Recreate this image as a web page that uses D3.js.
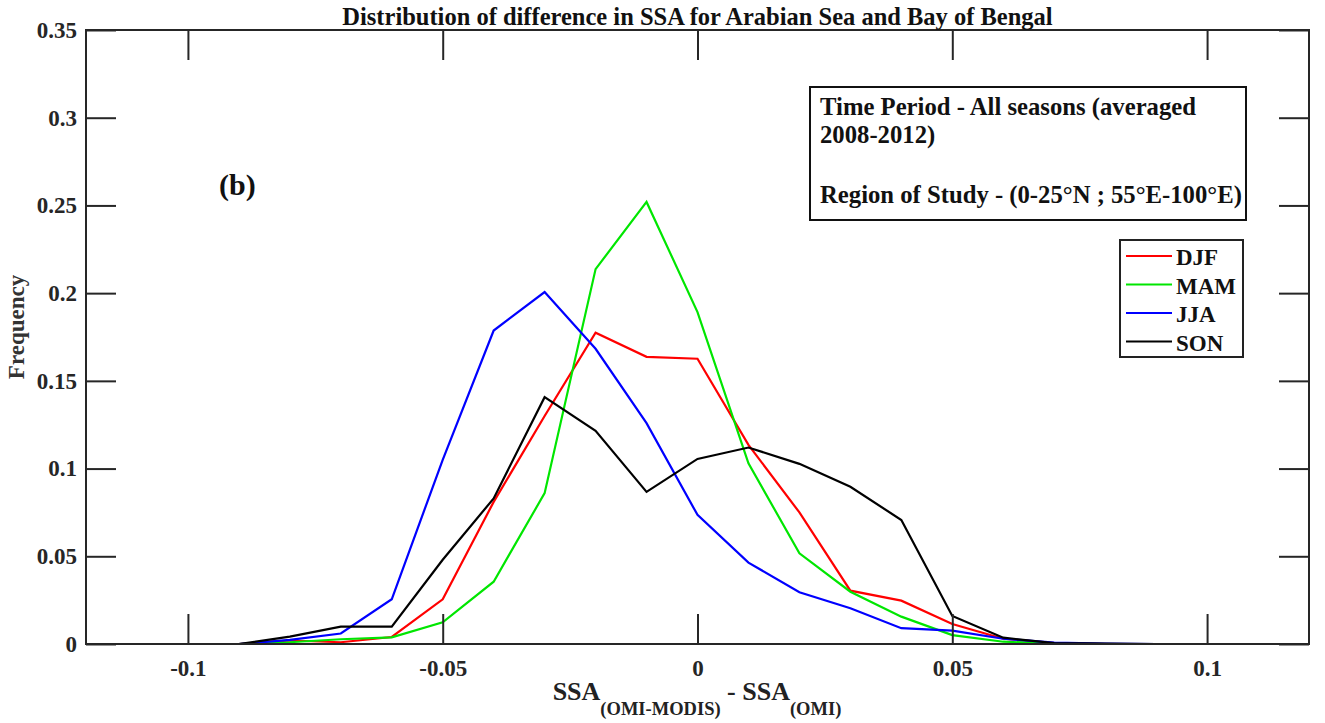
<!DOCTYPE html>
<html>
<head>
<meta charset="utf-8">
<script src="https://cdn.jsdelivr.net/npm/d3@7"></script>
<style>
  html, body { margin: 0; padding: 0; background: #fff; }
  svg { display: block; font-family: "Liberation Serif", "Times New Roman", serif; font-weight: bold; }
</style>
</head>
<body>
<svg id="chart" width="1325" height="723"></svg>
<script>
// Bin centres of the SSA difference histogram
const bins = [-0.09, -0.08, -0.07, -0.06, -0.05, -0.04, -0.03, -0.02, -0.01, 0,
              0.01, 0.02, 0.03, 0.04, 0.05, 0.06, 0.07, 0.08, 0.09];

// Relative frequency per season
const djf = [0, 0.002, 0.001, 0.004, 0.0255, 0.081, 0.13, 0.1774, 0.1637, 0.1626,
             0.1135, 0.075, 0.0304, 0.0247, 0.0114, 0.003, 0.0005, 0, 0];
const mam = [0, 0.001, 0.0027, 0.0038, 0.0124, 0.0355, 0.086, 0.2137, 0.252, 0.1892,
             0.103, 0.0517, 0.0298, 0.0156, 0.0051, 0.0013, 0.0003, 0, 0];
const jja = [0, 0.0023, 0.006, 0.0255, 0.105, 0.1787, 0.2006, 0.1683, 0.1259, 0.0736,
             0.0464, 0.0295, 0.0204, 0.009, 0.0076, 0.003, 0.0008, 0.0002, 0];
const son = [0, 0.0042, 0.0099, 0.0099, 0.048, 0.083, 0.1407, 0.1215, 0.0867, 0.1055,
             0.112, 0.1027, 0.0896, 0.0707, 0.016, 0.0036, 0.0005, 0.0002, 0];

const seasonNames = ["DJF", "MAM", "JJA", "SON"];
const seasonColors = ["#ff0000", "#00e600", "#0000ff", "#000000"];
const seasonValues = [djf, mam, jja, son];

const xTicks = [-0.1, -0.05, 0, 0.05, 0.1];
const yTicks = [0, 0.05, 0.1, 0.15, 0.2, 0.25, 0.3, 0.35];

const svg = d3.select("#chart");
const axisColor = "#262626";

const box = { left: 86, right: 1309, top: 30, bottom: 644 };

const x = d3.scaleLinear().domain([-0.12, 0.12]).range([box.left, box.right]);
const y = d3.scaleLinear().domain([0, 0.35]).range([box.bottom, box.top]);

const fmt = d => d === 0 ? "0" : String(d);

// Data lines (clipped to the plot box)
svg.append("clipPath").attr("id", "plotClip")
  .append("rect").attr("x", box.left).attr("y", box.top)
  .attr("width", box.right - box.left).attr("height", box.bottom - box.top);

const line = d3.line().x((d, i) => x(bins[i])).y(d => y(d));

const lines = svg.append("g").attr("clip-path", "url(#plotClip)");
seasonValues.forEach((vals, k) => {
  lines.append("path")
    .datum(vals)
    .attr("d", line)
    .attr("fill", "none")
    .attr("stroke", seasonColors[k])
    .attr("stroke-width", 2.2)
    .attr("stroke-linejoin", "miter");
});

// Axes: ticks point inward on all four sides
const tickLen = 30;
const axisStyle = g => {
  g.select(".domain").remove();
  g.selectAll(".tick line").attr("stroke", axisColor).attr("stroke-width", 2);
  g.selectAll(".tick text").attr("fill", axisColor)
    .style("font-size", "23px").style("font-weight", "bold")
    .style("font-family", "'Liberation Serif', 'Times New Roman', serif");
};

svg.append("g").attr("transform", `translate(0,${box.bottom})`)
  .call(d3.axisBottom(x).tickValues(xTicks).tickFormat(fmt).tickSize(-tickLen).tickPadding(16))
  .call(axisStyle);
svg.append("g").attr("transform", `translate(0,${box.top})`)
  .call(d3.axisTop(x).tickValues(xTicks).tickFormat("").tickSize(-tickLen))
  .call(axisStyle);
svg.append("g").attr("transform", `translate(${box.left},0)`)
  .call(d3.axisLeft(y).tickValues(yTicks).tickFormat(fmt).tickSize(-tickLen).tickPadding(9))
  .call(axisStyle);
svg.append("g").attr("transform", `translate(${box.right},0)`)
  .call(d3.axisRight(y).tickValues(yTicks).tickFormat("").tickSize(-tickLen))
  .call(axisStyle);

// Plot box
svg.append("rect")
  .attr("x", box.left).attr("y", box.top)
  .attr("width", box.right - box.left).attr("height", box.bottom - box.top)
  .attr("fill", "none").attr("stroke", axisColor).attr("stroke-width", 2);

// Title
svg.append("text")
  .attr("x", (box.left + box.right) / 2).attr("y", 25)
  .attr("text-anchor", "middle")
  .style("font-size", "24.5px")
  .attr("fill", "#111")
  .text("Distribution of difference in SSA for Arabian Sea and Bay of Bengal");

// Y axis label
svg.append("text")
  .attr("transform", "translate(24,327) rotate(-90)")
  .attr("text-anchor", "middle")
  .style("font-size", "23px")
  .attr("fill", "#333")
  .text("Frequency");

// X axis label with subscripts
const xl = svg.append("text")
  .attr("x", 697).attr("y", 700)
  .attr("text-anchor", "middle")
  .style("font-size", "26px")
  .attr("fill", "#222");
xl.append("tspan").text("SSA");
xl.append("tspan").attr("dy", 15).style("font-size", "18.5px").text("(OMI-MODIS)");
xl.append("tspan").attr("dy", -15).text(" - SSA");
xl.append("tspan").attr("dy", 15).style("font-size", "18.5px").text("(OMI)");

// Panel tag
svg.append("text")
  .attr("x", 219).attr("y", 195)
  .style("font-size", "30px")
  .attr("fill", "#111")
  .text("(b)");

// Annotation box
svg.append("rect")
  .attr("x", 810).attr("y", 87).attr("width", 436).attr("height", 133)
  .attr("fill", "#fff").attr("stroke", "#111").attr("stroke-width", 2);
const notes = [
  { t: "Time Period - All seasons (averaged", yy: 115 },
  { t: "2008-2012)", yy: 143 },
  { t: "Region of Study - (0-25°N ; 55°E-100°E)", yy: 203 }
];
svg.selectAll(".note").data(notes).enter().append("text")
  .attr("class", "note")
  .attr("x", 820).attr("y", d => d.yy)
  .style("font-size", "24.7px")
  .attr("fill", "#111")
  .text(d => d.t);

// Legend
const lg = svg.append("g");
lg.append("rect")
  .attr("x", 1120).attr("y", 240).attr("width", 123).attr("height", 117)
  .attr("fill", "#fff").attr("stroke", "#222").attr("stroke-width", 2);
seasonNames.forEach((name, k) => {
  const cy = 256 + k * 28.5;
  lg.append("line")
    .attr("x1", 1126).attr("x2", 1172).attr("y1", cy).attr("y2", cy)
    .attr("stroke", seasonColors[k]).attr("stroke-width", 2.2);
  lg.append("text")
    .attr("x", 1176).attr("y", cy + 9)
    .style("font-size", "23px")
    .attr("fill", "#111")
    .text(name);
});
</script>
</body>
</html>
